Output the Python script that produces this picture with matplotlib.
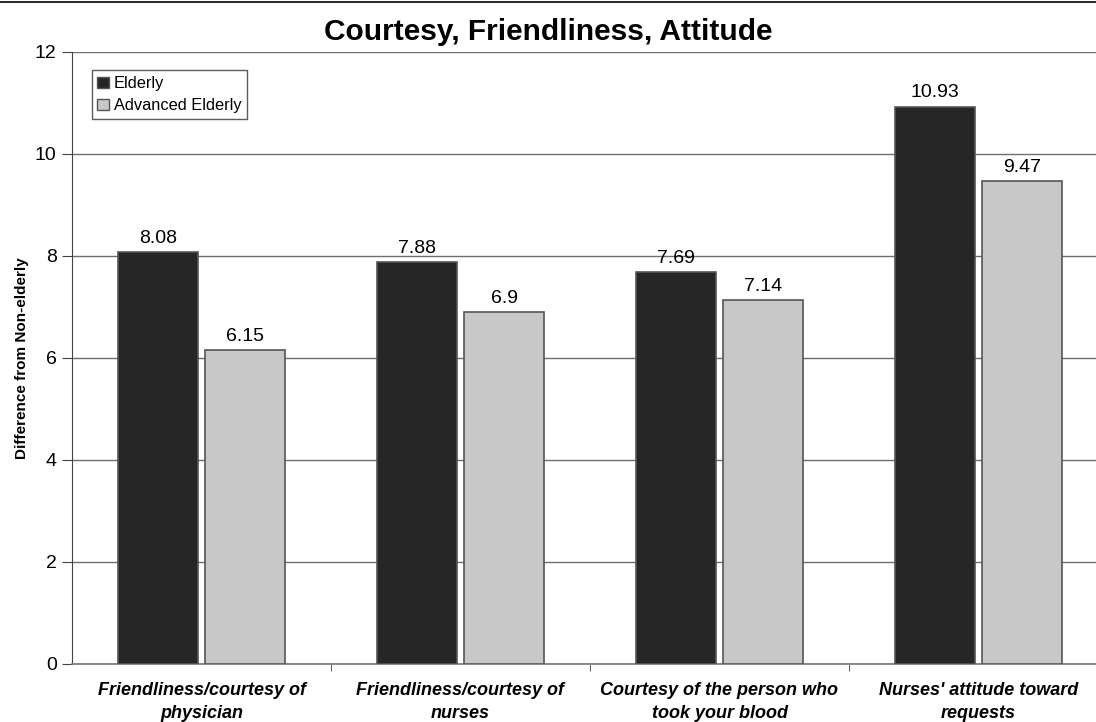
import matplotlib
matplotlib.use("Agg")
import matplotlib.pyplot as plt
from matplotlib.lines import Line2D
from matplotlib.patches import Patch
import numpy as np

plt.rcParams['font.family'] = ['Liberation Sans', 'DejaVu Sans']

categories = [
    "Friendliness/courtesy of\nphysician",
    "Friendliness/courtesy of\nnurses",
    "Courtesy of the person who\ntook your blood",
    "Nurses' attitude toward\nrequests",
]
series_names = ["Elderly", "Advanced Elderly"]
elderly = [8.08, 7.88, 7.69, 10.93]
advanced_elderly = [6.15, 6.9, 7.14, 9.47]
value_labels_elderly = ["8.08", "7.88", "7.69", "10.93"]
value_labels_advanced = ["6.15", "6.9", "7.14", "9.47"]
y_ticks = [0, 2, 4, 6, 8, 10, 12]

dark = "#262626"
light = "#c8c8c8"
edge = "#555555"

fig = plt.figure(figsize=(10.96, 7.22), dpi=100)
ax = fig.add_axes([72 / 1096, 1 - 664 / 722, 1036 / 1096, 612 / 722])

x = np.arange(len(categories))
w = 0.31
gap = 0.027
b1 = ax.bar(x - w / 2 - gap / 2, elderly, w, color=dark, edgecolor=edge, linewidth=1.2, zorder=3)
b2 = ax.bar(x + w / 2 + gap / 2, advanced_elderly, w, color=light, edgecolor=edge, linewidth=1.2, zorder=3)

for rect, lab in zip(b1, value_labels_elderly):
    ax.text(rect.get_x() + rect.get_width() / 2, rect.get_height() + 0.1, lab,
            ha="center", va="bottom", fontsize=14)
for rect, lab in zip(b2, value_labels_advanced):
    ax.text(rect.get_x() + rect.get_width() / 2, rect.get_height() + 0.1, lab,
            ha="center", va="bottom", fontsize=14)

ax.set_xlim(-0.5, len(categories) - 0.5)
ax.set_ylim(0, 12)
ax.set_yticks(y_ticks)
ax.set_yticklabels([str(t) for t in y_ticks], fontsize=14)
ax.yaxis.grid(True, color="#6e6e6e", linewidth=1.0, zorder=0)
ax.set_axisbelow(True)

# category labels centered, tick marks on the category boundaries
ax.set_xticks(x)
ax.set_xticklabels(categories, fontsize=13, fontweight="bold", fontstyle="italic",
                   linespacing=1.45)
ax.tick_params(axis="x", length=0, pad=13)
ax.set_xticks(np.arange(0.5, len(categories) - 0.5, 1), minor=True)
ax.tick_params(axis="x", which="minor", length=5, color="#444444", direction="out")
ax.tick_params(axis="y", length=7, color="#444444", direction="out", pad=4)

for s in ["top", "right"]:
    ax.spines[s].set_visible(False)
ax.spines["left"].set_color("#444444")
ax.spines["bottom"].set_color("#777777")
ax.spines["bottom"].set_linewidth(1.2)

ax.set_ylabel("Difference from Non-elderly", fontsize=11, fontweight="bold", labelpad=4)

fig.text(0.5, 1 - 32 / 722, "Courtesy, Friendliness, Attitude", ha="center", va="center",
         fontsize=21.5, fontweight="bold")

fig.add_artist(Line2D([0, 1], [1 - 2 / 722, 1 - 2 / 722], color="black", linewidth=1.2,
                      transform=fig.transFigure))

handles = [Patch(facecolor=dark, edgecolor=edge), Patch(facecolor=light, edgecolor=edge)]
leg = ax.legend(handles, series_names, loc="upper left", bbox_to_anchor=(0.019, 0.97),
                fontsize=11.8, frameon=True, fancybox=False, edgecolor="#333333",
                handlelength=0.7, handleheight=0.7, handletextpad=0.3,
                borderpad=0.35, labelspacing=0.45, borderaxespad=0)
leg.get_frame().set_linewidth(1.0)

fig.savefig("out.png", dpi=100)
